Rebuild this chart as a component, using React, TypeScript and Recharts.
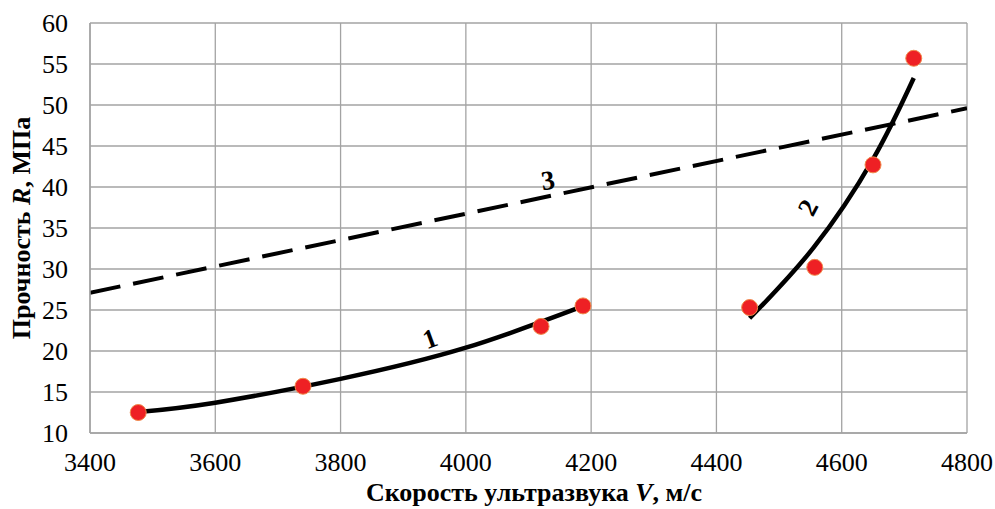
import React from 'react'
import { ComposedChart, Line, Scatter, XAxis, YAxis, CartesianGrid, ReferenceDot } from 'recharts'

const xTicks = [3400, 3600, 3800, 4000, 4200, 4400, 4600, 4800]
const yTicks = [10, 15, 20, 25, 30, 35, 40, 45, 50, 55, 60]

// measured points (V, R)
const measured = [
  { x: 3477, y: 12.5 },
  { x: 3740, y: 15.7 },
  { x: 4120, y: 23.0 },
  { x: 4187, y: 25.5 },
  { x: 4453, y: 25.3 },
  { x: 4557, y: 30.2 },
  { x: 4650, y: 42.7 },
  { x: 4715, y: 55.7 },
]

// trend 1
const curve1 = [
  { x: 3477, y: 12.55 },
  { x: 3600, y: 13.7 },
  { x: 3800, y: 16.6 },
  { x: 4000, y: 20.4 },
  { x: 4185, y: 25.4 },
]

// trend 2
const curve2 = [
  { x: 4453, y: 24.0 },
  { x: 4555, y: 32.6 },
  { x: 4650, y: 43.4 },
  { x: 4715, y: 53.3 },
]

// line 3
const line3 = [
  { x: 3400, y: 27.1 },
  { x: 4800, y: 49.6 },
]

const curveLabels = [
  { text: '1', x: 3943, y: 21.5, angle: -20 },
  { text: '2', x: 4546, y: 37.5, angle: -62 },
  { text: '3', x: 4131, y: 40.8, angle: -8 },
]

const font = "'Liberation Serif', 'Times New Roman', 'DejaVu Serif', serif"

export default function App() {
  return (
    <div style={{ position: 'absolute', left: 0, top: 0, background: '#fff', fontFamily: font }}>
      <ComposedChart width={995} height={509} margin={{ top: 23, right: 28, bottom: 0, left: 0 }}>
        <CartesianGrid stroke="#a3a3a3" strokeWidth={1.3} />
        <XAxis
          type="number"
          dataKey="x"
          domain={[3400, 4800]}
          ticks={xTicks}
          allowDataOverflow
          height={76}
          tickLine={false}
          tickSize={0}
          tickMargin={20}
          axisLine={{ stroke: '#a3a3a3', strokeWidth: 1.5 }}
          tick={{ fill: '#000', fontSize: 26, style: { fontFamily: font } }}
          label={{
            content: () => (
              <text x={534} y={501} textAnchor="middle" style={{ fontFamily: font }} fontSize={26} fontWeight="bold" fill="#000">
                Скорость ультразвука <tspan fontStyle="italic">V</tspan>, м/с
              </text>
            ),
          }}
        />
        <YAxis
          type="number"
          dataKey="y"
          domain={[10, 60]}
          ticks={yTicks}
          allowDataOverflow
          width={90}
          tickLine={false}
          tickSize={0}
          tickMargin={22}
          axisLine={{ stroke: '#a3a3a3', strokeWidth: 1.5 }}
          tick={{ fill: '#000', fontSize: 26, style: { fontFamily: font } }}
          label={{
            content: () => (
              <text
                x={30}
                y={228}
                textAnchor="middle"
                transform="rotate(-90 30 228)"
                style={{ fontFamily: font }}
                fontSize={26}
                fontWeight="bold"
                fill="#000"
              >
                Прочность <tspan fontStyle="italic">R</tspan>, МПа
              </text>
            ),
          }}
        />
        <Line
          data={line3}
          dataKey="y"
          type="linear"
          stroke="#000"
          strokeWidth={4}
          strokeDasharray="31 13"
          dot={false}
          activeDot={false}
          isAnimationActive={false}
        />
        <Scatter
          data={measured}
          dataKey="y"
          isAnimationActive={false}
          shape={(p: any) => (
            <circle cx={p.cx} cy={p.cy} r={8} fill="#ee2024" stroke="#f08a4b" strokeWidth={1} />
          )}
        />
        <Line
          data={curve1}
          dataKey="y"
          type="natural"
          stroke="#000"
          strokeWidth={4.5}
          dot={false}
          activeDot={false}
          isAnimationActive={false}
        />
        <Line
          data={curve2}
          dataKey="y"
          type="natural"
          stroke="#000"
          strokeWidth={4.5}
          dot={false}
          activeDot={false}
          isAnimationActive={false}
        />
        {curveLabels.map((l) => (
          <ReferenceDot
            key={l.text}
            x={l.x}
            y={l.y}
            r={0}
            shape={(p: any) => (
              <text
                x={p.cx}
                y={p.cy}
                textAnchor="middle"
                dominantBaseline="central"
                transform={`rotate(${l.angle} ${p.cx} ${p.cy})`}
                style={{ fontFamily: font }}
                fontSize={27}
                fontWeight="bold"
                fill="#000"
              >
                {l.text}
              </text>
            )}
          />
        ))}
      </ComposedChart>
    </div>
  )
}
